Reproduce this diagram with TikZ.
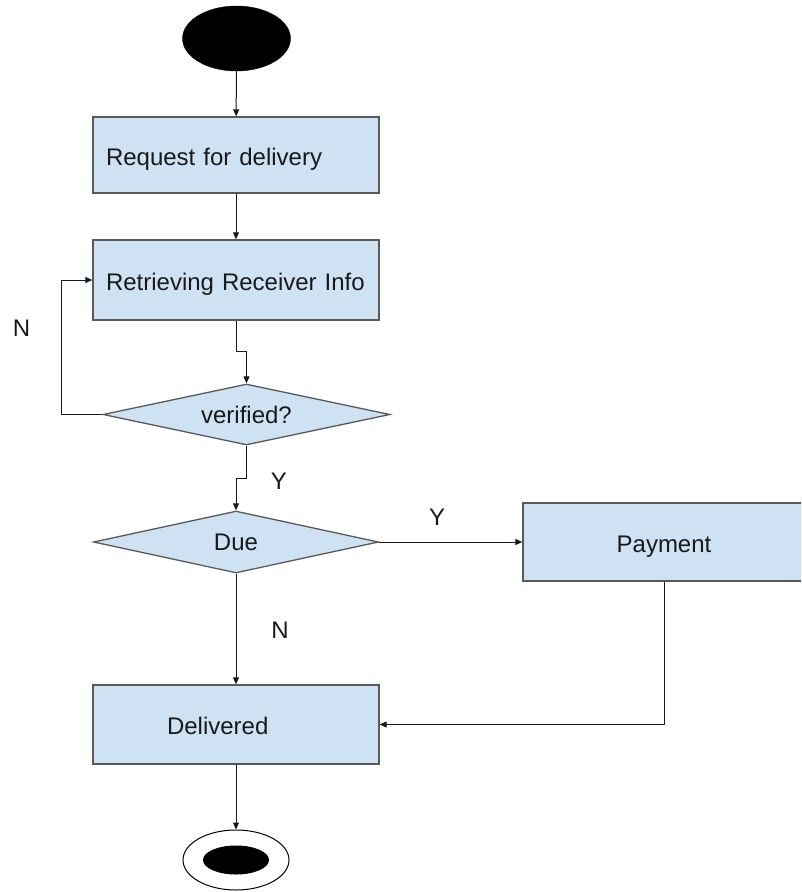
\documentclass[tikz,border=0pt]{standalone}
\usepackage{fontspec}
\setmainfont{Liberation Sans}
\usetikzlibrary{shapes.geometric,arrows.meta}
\definecolor{boxfill}{HTML}{CFE2F3}
\definecolor{boxline}{HTML}{595959}
\begin{document}
\begin{tikzpicture}[x=1pt,y=-1pt,
  every node/.style={font=\fontsize{24}{29}\selectfont, text=black!90},
  process/.style={draw=boxline, fill=boxfill, line width=1.3pt, rectangle, inner ysep=0pt,
    text height=24pt, text depth=3.6pt},
  decision/.style={draw=boxline, fill=boxfill, line width=1.3pt, diamond, inner sep=0pt},
  startnode/.style={ellipse, fill=black, draw=black, minimum width=108pt, minimum height=65pt, inner sep=0pt},
  endring/.style={ellipse, draw=black, line width=1pt, fill=white, minimum width=106pt, minimum height=60pt, inner sep=0pt},
  enddot/.style={ellipse, fill=black, minimum width=66pt, minimum height=29pt, inner sep=0pt},
  flow/.style={draw=black!90, line width=1pt, -{Triangle[length=7pt,width=6pt]}},
  lbl/.style={inner sep=0pt}]
\useasboundingbox (0,0) rectangle (801,892);
\clip (0,0) rectangle (801,892);

% start and end markers
\node[startnode] (start) at (236.5,38.5) {};
\node[endring] (stop) at (236,860) {};
\node[enddot] (stopdot) at (236,860) {};

% activity boxes
\node[process, minimum width=286pt, minimum height=76pt, text width=260pt, inner xsep=13pt, align=left]
  (req) at (236,155) {Request for delivery};
\node[process, minimum width=286pt, minimum height=80pt, text width=260pt, inner xsep=13pt, align=left]
  (ret) at (236,280) {Retrieving Receiver Info};
\node[process, minimum width=282pt, minimum height=78pt]
  (pay) at (664,542) {Payment};
\node[process, minimum width=286pt, minimum height=79pt, text width=138pt, inner xsep=74pt, align=left]
  (del) at (236,724.5) {Delivered};

% decisions
\node[decision, minimum width=287pt, minimum height=61pt, aspect=4.7] (ver) at (246.5,414.5) {verified?};
\node[decision, minimum width=285pt, minimum height=62pt, aspect=4.6] (due) at (236,542) {Due};

% branch labels
\node[lbl] (nloop) at (21.5,328) {N};
\node[lbl] (yver) at (279,481) {Y};
\node[lbl] (ydue) at (437,517) {Y};
\node[lbl] (ndue) at (280,630) {N};

% connectors
\draw[flow] (start) -- (req);
\draw[flow] (req) -- (ret);
\draw[flow] (ret.south) -- ++(0,31) -| (ver.north);
\draw[flow] (ver.west) -- ++(-41,0) |- (ret.west);
\draw[flow] (ver.south) -- ++(0,33) -| (due.north);
\draw[flow] (due.east) -- (pay.west);
\draw[flow] (due.south) -- (del.north);
\draw[flow] (pay.south) |- (del.east);
\draw[flow] (del.south) -- (stop.north);
\end{tikzpicture}
\end{document}
